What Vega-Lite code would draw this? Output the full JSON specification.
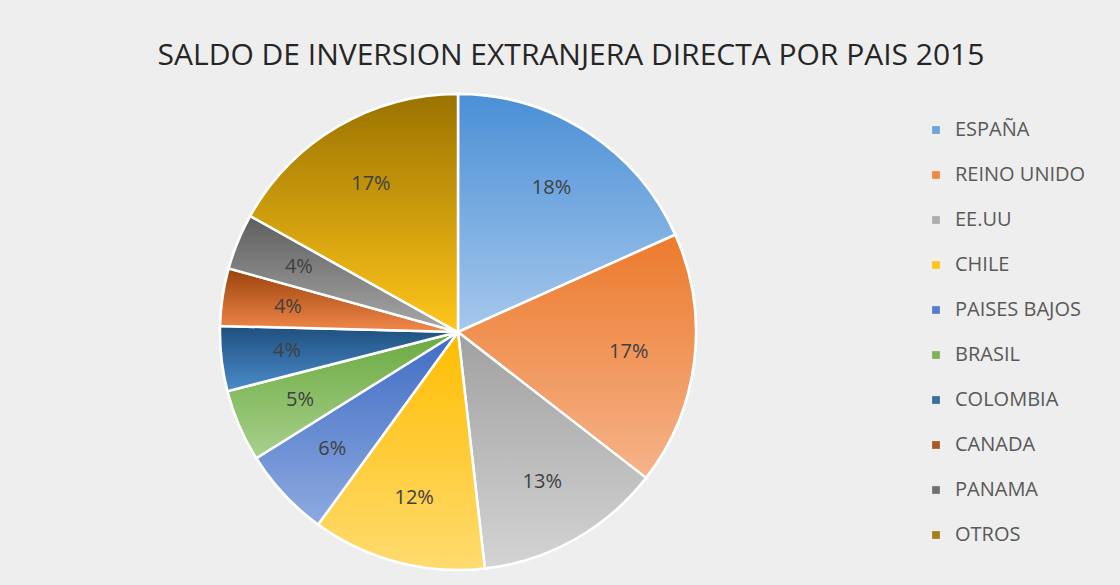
{
  "$schema": "https://vega.github.io/schema/vega-lite/v6.json",
  "width": 902,
  "height": 480,
  "autosize": {"type": "none"},
  "padding": {"left": 7, "top": 92, "right": 211, "bottom": 13},
  "background": "#eeeeee",
  "view": {"stroke": null},
  "title": {
    "text": "SALDO DE INVERSION EXTRANJERA DIRECTA POR PAIS 2015",
    "font": "Open Sans",
    "fontSize": 30,
    "fontWeight": "normal",
    "color": "#262626",
    "anchor": "middle",
    "frame": "group",
    "dx": 113,
    "offset": 18
  },
  "data": {
    "values": [
      {"country": "ESPAÑA", "idx": 1, "pct": 0.183},
      {"country": "REINO UNIDO", "idx": 2, "pct": 0.172},
      {"country": "EE.UU", "idx": 3, "pct": 0.127},
      {"country": "CHILE", "idx": 4, "pct": 0.118},
      {"country": "PAISES BAJOS", "idx": 5, "pct": 0.061},
      {"country": "BRASIL", "idx": 6, "pct": 0.049},
      {"country": "COLOMBIA", "idx": 7, "pct": 0.044},
      {"country": "CANADA", "idx": 8, "pct": 0.039},
      {"country": "PANAMA", "idx": 9, "pct": 0.038},
      {"country": "OTROS", "idx": 10, "pct": 0.169}
    ]
  },
  "encoding": {
    "theta": {"field": "pct", "type": "quantitative", "stack": true},
    "order": {"field": "idx", "type": "quantitative"}
  },
  "layer": [
    {
      "mark": {"type": "arc", "outerRadius": 238, "stroke": "white", "strokeWidth": 2.5},
      "encoding": {
        "color": {
          "field": "country",
          "type": "nominal",
          "sort": ["ESPAÑA", "REINO UNIDO", "EE.UU", "CHILE", "PAISES BAJOS", "BRASIL", "COLOMBIA", "CANADA", "PANAMA", "OTROS"],
          "scale": {
            "domain": ["ESPAÑA", "REINO UNIDO", "EE.UU", "CHILE", "PAISES BAJOS", "BRASIL", "COLOMBIA", "CANADA", "PANAMA", "OTROS"],
            "range": ["#5b9bd5", "#ed7d31", "#a5a5a5", "#ffc000", "#4472c4", "#70ad47", "#255e91", "#9e480e", "#636363", "#997300"]
          },
          "legend": {
            "title": null,
            "orient": "none",
            "legendX": 919,
            "legendY": 28,
            "symbolType": "square",
            "symbolSize": 60,
            "symbolStrokeWidth": 0,
            "labelFont": "Open Sans",
            "labelFontSize": 20,
            "labelColor": "#595959",
            "labelOffset": 9,
            "rowPadding": 25,
            "symbolOpacity": 0.9
          }
        }
      }
    },
    {
      "mark": {"type": "arc", "outerRadius": 238, "stroke": "white", "strokeWidth": 2.5},
      "encoding": {
        "fill": {
          "condition": [
            {"test": "datum.country === 'ESPAÑA'", "value": {"gradient": "linear", "x1": 0, "y1": 0, "x2": 0, "y2": 1, "stops": [{"offset": 0, "color": "#4a8fd6"}, {"offset": 1, "color": "#a6c8ec"}]}},
            {"test": "datum.country === 'REINO UNIDO'", "value": {"gradient": "linear", "x1": 0, "y1": 0, "x2": 0, "y2": 1, "stops": [{"offset": 0, "color": "#ec7a2c"}, {"offset": 1, "color": "#f6b38a"}]}},
            {"test": "datum.country === 'EE.UU'", "value": {"gradient": "linear", "x1": 0, "y1": 0, "x2": 0, "y2": 1, "stops": [{"offset": 0, "color": "#a0a0a0"}, {"offset": 1, "color": "#d4d4d4"}]}},
            {"test": "datum.country === 'CHILE'", "value": {"gradient": "linear", "x1": 0, "y1": 0, "x2": 0, "y2": 1, "stops": [{"offset": 0, "color": "#ffbd00"}, {"offset": 1, "color": "#ffdb70"}]}},
            {"test": "datum.country === 'PAISES BAJOS'", "value": {"gradient": "linear", "x1": 0, "y1": 0, "x2": 0, "y2": 1, "stops": [{"offset": 0, "color": "#3f6cc4"}, {"offset": 1, "color": "#8eaae0"}]}},
            {"test": "datum.country === 'BRASIL'", "value": {"gradient": "linear", "x1": 0, "y1": 0, "x2": 0, "y2": 1, "stops": [{"offset": 0, "color": "#6aaa40"}, {"offset": 1, "color": "#a8d08c"}]}},
            {"test": "datum.country === 'COLOMBIA'", "value": {"gradient": "linear", "x1": 0, "y1": 0, "x2": 0, "y2": 1, "stops": [{"offset": 0, "color": "#1e4f7e"}, {"offset": 1, "color": "#4b8ccb"}]}},
            {"test": "datum.country === 'CANADA'", "value": {"gradient": "linear", "x1": 0, "y1": 0, "x2": 0, "y2": 1, "stops": [{"offset": 0, "color": "#9a420c"}, {"offset": 1, "color": "#f2884a"}]}},
            {"test": "datum.country === 'PANAMA'", "value": {"gradient": "linear", "x1": 0, "y1": 0, "x2": 0, "y2": 1, "stops": [{"offset": 0, "color": "#5e5e5e"}, {"offset": 1, "color": "#a8a8a8"}]}},
            {"test": "datum.country === 'OTROS'", "value": {"gradient": "linear", "x1": 0, "y1": 0, "x2": 0, "y2": 1, "stops": [{"offset": 0, "color": "#9a7200"}, {"offset": 1, "color": "#ffc61a"}]}}
          ],
          "value": "#999999"
        }
      }
    },
    {
      "mark": {"type": "text", "radius": 172, "font": "Open Sans", "fontSize": 20, "fill": "#404040"},
      "encoding": {
        "text": {"field": "pct", "type": "quantitative", "format": ".0%"}
      }
    }
  ]
}
